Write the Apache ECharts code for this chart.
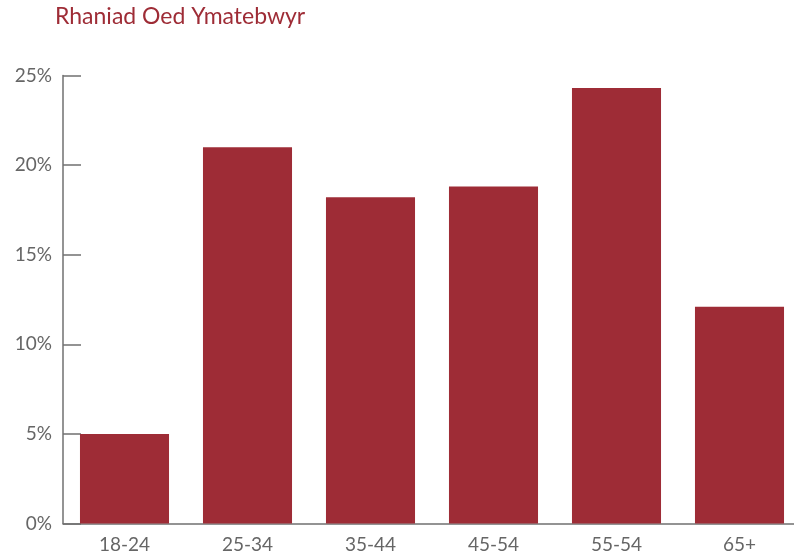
<!DOCTYPE html>
<html>
<head>
<meta charset="utf-8">
<script src="https://cdn.jsdelivr.net/npm/echarts@6/dist/echarts.min.js"></script>
<style>
  html, body { margin: 0; padding: 0; background: #fff; }
  #chart { width: 794px; height: 560px; }
</style>
</head>
<body>
<div id="chart"></div>
<script>
// age bands and share of respondents (%)
const ageGroups = ['18-24', '25-34', '35-44', '45-54', '55-54', '65+'];
const shares = [5.0, 21.0, 18.2, 18.8, 24.3, 12.1];
const yTicks = [0, 5, 10, 15, 20, 25];

const red = '#9e2c36';
const grey = '#707070';
const font = 'Lato';

const chart = echarts.init(document.getElementById('chart'), null, { renderer: 'canvas' });

chart.setOption({
  animation: false,
  title: {
    text: 'Rhaniad Oed Ymatebwyr',
    left: 50,
    top: 0,
    textStyle: { color: red, fontFamily: font, fontSize: 23, fontWeight: 'normal' }
  },
  // the last category runs past the right edge in the original, so let it overflow
  grid: { left: 63, top: 75.5, width: 738, height: 448, containLabel: false, outerBoundsMode: 'none' },
  xAxis: {
    type: 'category',
    data: ageGroups,
    axisLine: { lineStyle: { color: grey, width: 1.5 } },
    axisTick: { inside: true, length: 10, lineStyle: { color: grey, width: 1.5 } },
    axisLabel: { color: '#666', fontFamily: font, fontSize: 19, margin: 12 }
  },
  yAxis: {
    type: 'value',
    min: yTicks[0],
    max: yTicks[yTicks.length - 1],
    interval: 5,
    splitLine: { show: false },
    axisLine: { show: true, lineStyle: { color: grey, width: 1.5 } },
    axisTick: { show: true, inside: true, length: 18, lineStyle: { color: grey, width: 1.5 } },
    axisLabel: { color: '#666', fontFamily: font, fontSize: 19, margin: 11, formatter: '{value}%' }
  },
  series: [{
    type: 'bar',
    data: shares,
    barCategoryGap: '27.6%',
    itemStyle: { color: red }
  }]
});
</script>
</body>
</html>
